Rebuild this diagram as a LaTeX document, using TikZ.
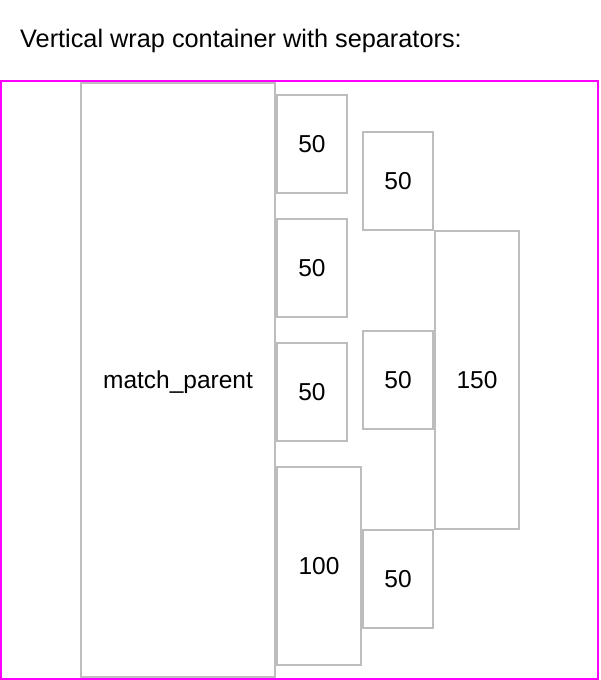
\documentclass[tikz,border=0pt]{standalone}
\usepackage{fontspec}
\setmainfont{Liberation Sans}
\definecolor{frame}{HTML}{FF00FF}
\definecolor{boxline}{HTML}{BDBDBD}
\begin{document}
\begin{tikzpicture}[x=1pt,y=-1pt,
    cell/.style={draw=boxline,line width=1.6pt,inner sep=0pt,text depth=0pt,minimum width=#1,font=\fontsize{24.5}{28}\selectfont},
    cell/.default=70]
  \useasboundingbox (0,0) rectangle (600,680);
  \node[anchor=base west,inner sep=0pt,font=\fontsize{25.3}{30}\selectfont] (title) at (20,47) {Vertical wrap container with separators:};
  \draw[frame,line width=2pt] (1,81) rectangle (598,679);

  % wide item
  \node[cell=194,minimum height=594] (full) at (178,380) {match\_parent};

  % first column
  \node[cell,minimum height=98] (ca) at (312,144) {50};
  \node[cell,minimum height=98] (cb) at (312,268) {50};
  \node[cell,minimum height=98] (cc) at (312,392) {50};
  \node[cell=84,minimum height=198] (cd) at (319,566) {100};

  % second column
  \node[cell,minimum height=98] (da) at (398,181) {50};
  \node[cell,minimum height=98] (db) at (398,380) {50};
  \node[cell,minimum height=98] (dc) at (398,579) {50};

  % third column
  \node[cell=84,minimum height=298] (tall) at (477,380) {150};
\end{tikzpicture}
\end{document}
